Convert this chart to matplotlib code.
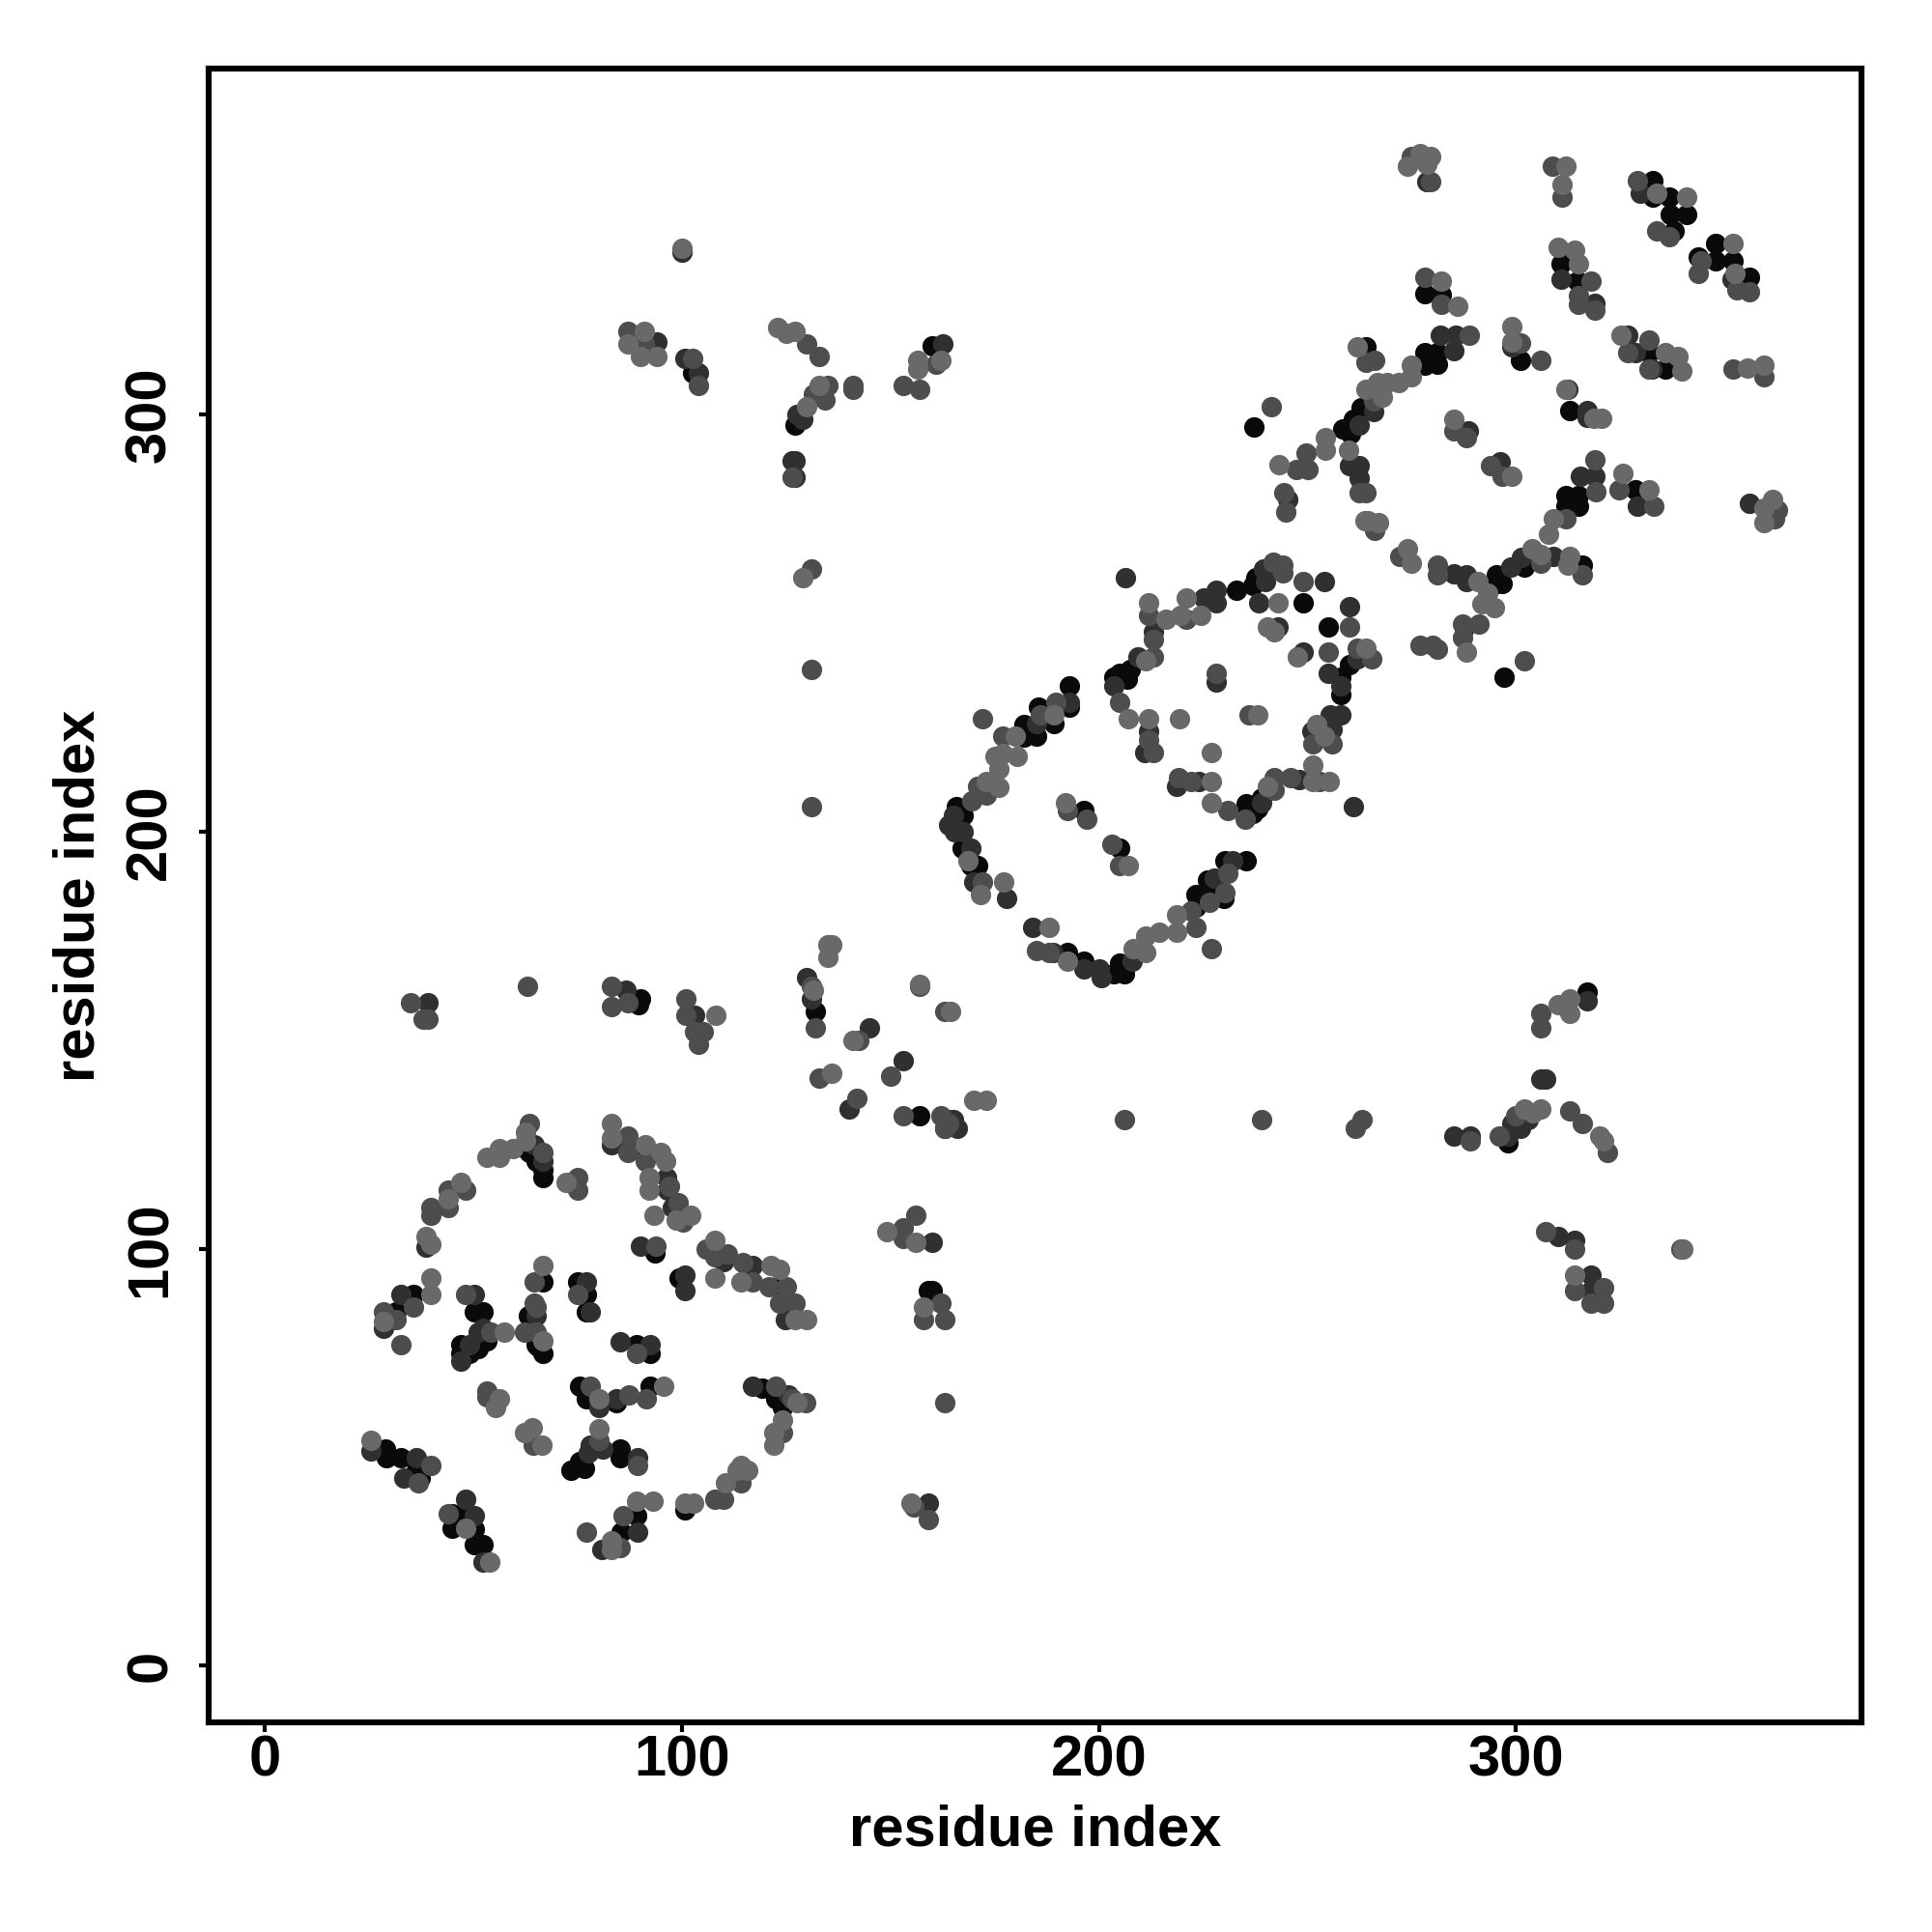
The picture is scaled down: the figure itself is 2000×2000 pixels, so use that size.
# contact map: residue index vs residue index, darker = stronger
import matplotlib
matplotlib.use('Agg')
import matplotlib.pyplot as plt

plt.rcParams['font.family'] = ['Liberation Sans', 'DejaVu Sans']
plt.rcParams['font.weight'] = 'bold'

xticks = [0, 100, 200, 300]
yticks = [0, 100, 200, 300]
axis_label = 'residue index'

# points, grouped by how dark they are
black = [(62.5,124),(63.5,123),(65.1,121),(66.6,119),(66.6,117),(35.6,89),(31.5,85),(50.1,85),(52.2,85),(47,77),(47,75),(49.1,75),(51.1,76),(53.2,78),
(66.6,92),(63.1,84),(65.1,77),(66.6,75),(65.6,76.5),(74.9,92),(77,89),(77,85),(89,77),(92.4,75),(75.4,67),(77,64),(84.2,63),(92.4,67),(119.3,66.6),
(122.4,64),(124,62),(100.7,37.5),(89,36),(85.4,32),(73.4,47),(75.4,49),(76.6,47.3),(85.2,52),(85.2,50),(28.9,52),(29.1,50),(32.5,50),(36.2,47),
(37.2,45),(44.9,36.5),(46.7,36),(44.9,33),(50.1,32.7),(50.1,29),(52.2,29),(93.5,99),(99.4,93),(122.9,91),(124.5,87),(87,125),(91.1,123),
(237.6,261),(237,259),(233,258),(249,255),(255,249),(260,240),(258,237),(258,233),(239,208),(235.3,206.8),(235.3,204.4),(237,204.4),(238,205.5),
(203.6,237),(205,238),(206.7,236.5),(207.5,239),(193,235),(193,230),(189.3,226),(185.5,230),(182,225.7),(185,223),(182,222.6),
(165.8,206),(167.3,204),(167.2,196),(169.3,192),(171,192),(196.3,205),(205,196),(235.3,193),(230.3,193),(226,188.5),(230,184),(226,185.5),
(223.3,185),(223.3,182),(205,168.5),(206,166),(203.6,166),(196.3,169),(192.4,171),
(332.9,356.1),(332.9,352.1),(336.7,352.1),(337,348.1),(341,348.1),(338,344.1),(347.9,341),(343.8,337.9),(347.9,337),(352,337),(356,333),
(310.7,336.1),(314.8,332.1),(278.2,329),(282,328.9),(301.1,313.1),(332,314.9),(335.9,310.9),(312.8,301.1),(328.6,282),
(281.2,314.9),(278.2,314.9),(278.2,311.8),(281.2,312.2),(264.1,316.2),(262.8,301.6),(261.1,298.9),(258.5,296.7),(260.2,295.4),(237.2,297.1),
(295.3,261.7),(294.4,259),(296.6,259.5),(302.1,263.4),(316,263.9),(312,278.1),(315,278.1),(312,280.7),(315,280.7),(297.2,237),
(102.5,310),(127,297.5),(160,316.5),(90,160),(89.5,158.6),(132,157),(157,132),(298,125.5),(317,161.6),(159,90),(160,90)]

dark = [(64.6,125),(66.6,121),(32.5,89),(28.4,81),(50.1,89),(52.2,81),(51.1,80),(49.1,77),(47,73),(65.1,84),(77,92),(78,85),(85.2,77.6),(92.4,77),(84.2,64),(80,62),
(116.9,67),(125.5,65),(89.3,32),(80.7,28),(81.1,52),(78,53),(77.5,51),(89.3,50),(25.3,51.6),(36.2,50),(33.2,45),(48,40),(50.1,36),(52.2,25),(38.7,100.5),
(83.1,125),(96.2,117),(97.6,110),(90,100.6),(100.7,93.6),(100.7,90),(110,97),(116.9,96),(124.9,83),(96.6,114),
(206.3,261),(239.5,263),(240,260),(238.4,255),(254,260),(260,254),(243,249),(249,243),(255,238),(262,241.5),(258,235),(255.4,228),(258,228),
(256,224.5),(251,224),(248,212.6),(261,206),(239,207),(224,212),(218.7,211),(228,236),(212,224),(211,219),(203.6,235),(209.4,242),(213,248),
(225,256),(228,258),(228,255),(193,231),(185,226),(165,204),(163.9,201.7),(165.4,200),(167.3,200),(169.3,196),(170,188),(177.8,184),(232,193),
(227.6,189),(207.9,169),(200,167),(200.5,165),(196.3,167),(189,171),(184,177),
(278.6,355.8),(329.9,353),(351.7,332.6),(310.7,332.6),(319,326.8),(298.9,316.2),(326.9,319.1),(328.6,315),(332.5,310.9),(312.4,306),(317.1,301.1),(317.1,299.3),
(288.5,296.1),(296.1,288.7),(329,278.1),(356,278.7),(285.5,319.1),(281.8,319.1),(285,315.3),(265.8,300.7),(262.4,297.6),(262.4,287.8),(260.1,287.8),(262.4,284.7),
(245.3,279.8),(285,261.9),(288,261.7),(288,259.9),(298.7,263.4),(301.3,265.7),(309,266.1),(319,285.2),(315.4,285.2),(287.6,248.8),
(100,339),(104,310),(94,317.5),(100.7,313.5),(129,299),(127.5,300),(126.4,289),(127,289),(127,285),(162.5,317),(39,159),(86.5,162),
(103,156),(130,165),(131,160),(145,153),(153,145),(140,133.5),(163,129),(165,131),(164,131),(166,129),(285,127),(289,127),(298,127),(299,130),(301,129),(303,131),(306,140.6),(307,140.6),(317,159.5),(160,101.6),
(159,39),(310,103),(314,102),(318,93.6),(318,90)]

mid = [(63.5,130),(66.6,123),(74.9,117),(74.9,114),(72.8,116),(48,114),(43.9,114),(43.9,110),(39.8,110),(39.8,108),(35.6,86),(28.4,85),(31.5,83),(32.5,77),(48,89),(54.2,80),
(64.6,92),(64.6,87),(65.1,86),(62.3,80),(65.1,80),(74.9,89),(89,75),(53.2,66),(53.2,64.5),(78,67),(87.3,65),(91.4,64),(122.4,67),(129.6,63),(126.5,64),(124,56),(114.1,44),
(110,40),(107.9,40),(85.8,36),(85.2,28.4),(77,32),(80,54),(89.3,48),(39.8,48),(36.7,44),(43.9,36.5),(87,127),(87,123),(91.1,121),(97,115),(99,111),(100.2,106.4),
(93.8,100.6),(105.9,100),(107.9,98),(111,98.7),(114.5,96.7),(116.9,92),(120.9,91),(125,91),(123.4,87),(127.2,87),(64.3,53),
(241.8,264.7),(244,264),(244,262),(249,260),(260,249),(255,243),(262,244),(265.4,241.5),(256,221),(251.3,221),(246,213),(253,212),(242,213),(242,210),
(235,203),(231,205),(219,213),(222,212),(236,228),(228,238),(212,222),(213,219),(205,231),(213,242),(213,246),(212,252),(221,251),(189.7,231),(186,228),(177,223),(172,227),
(171,211),(173,208.7),(169.6,207.5),(172,188),(192.4,205),(197,203),(203.2,197),(205,192),(231,190),(230.3,185.5),(226.4,183),(222,181),(223.3,177),(185,171.6),(188,171),(227,172),
(274.8,361.8),(279.5,355.8),(308.8,359.6),(311.1,352.1),(329,356.1),(344.4,337),(343.8,333.9),(353,329.9),(356,329.5),(333.8,344.1),(336.7,342.8),(318,332.1),(315,328.6),(315,326.4),(319,325.1),
(278.2,333),(282,326.4),(301.1,317.1),(306,313.1),(326.9,315),(332,318),(332,310.9),(352.1,310.9),(359.4,309.1),(285,296.2),(288,294.5),(294,287.8),(296.6,285.2),(324.8,282),
(333.1,278.1),(362.8,277.2),(362,275),(288.9,319.1),(266.2,313.1),(264.1,312.6),(265.8,303.3),(249.6,290.9),(262.4,281.2),(264.1,281.2),(247.4,286.9),(250,286.9),(241.2,302),
(244.4,281.2),(244.7,276.7),(266,272.3),(272.2,266.1),(281.2,263.9),(281.2,261.7),(306,264.3),(316,261.7),(312,275),(319.2,281.6),(319,289.2),(287.2,249.7),(291.2,249.7),(287.2,246.6),
(276.9,244.8),(279.9,244.8),(281.2,243.9),(302.1,241.1),
(87,320),(91,317),(102.5,313.5),(104,307),(130,317),(133,314),(135,307),(131.5,305),(134.4,303.5),(126.4,285),(141,307),(141,306),(153,307),(157,306),(161,312),(131,263),(131,239),(131,206),
(35,159),(38,155),(39,155),(63,163),(83,163),(83,158),(87,159),(101,160),(101,156),(103,152),(105,152),(104,149),(131,163),(132,153),(142.4,150),(150,141.5),(133,141),(142,136),
(153,132),(162,132),(164,130),(163,129),(157,163),(163,157),(206,131),(239,131),(261.5,129),(263,131),(289,126),(296,127),(300,132),(313,133),(316,130),(322,123),(306,156.5),(306,153),
(153,105),(156,108),(153,102.5),(162,87),(158,83),(163,83),(163,63),(155.7,38),(159,35),(307,104),(314,100),(314,90),(321,90.7),(318,87),(321,87),(339.5,100)]

light = [(62.5,128),(62.5,126),(53.2,122),(56.3,124),(56.3,122),(59.4,124),(72.3,116),(47,116),(43.9,112),(38.7,103),(39.8,101),(39.8,93),(39.8,89),(28.4,82.5),(57.3,80),(66.6,96),(66.6,78),(56.3,64),(55.3,62),(80,64),(95.5,67),
(127.6,63),(124,59),(122.1,56),(122.1,53),(114.1,48),(115.7,47),(113.1,47),(110.5,44),(102.8,39),(100.7,39),(93,39.6),(89,39.6),(83.1,30),(83.1,28),(80,56.8),(64,57),(62.3,56),(66.3,53),(25.3,54),(48,33),(54,25),
(83.1,130),(83.1,126.5),(91.1,125),(95,123),(96,121),(92.2,117),(92.2,114),(102.2,108),(98.6,107),(93.2,108),(107.9,102),(107.9,93),(114.1,92),(121.4,96),(123.4,95),(127.2,83),(130,83),
(243,255),(240.3,249),(242,248),(247.5,242),(264,244),(252.3,225.7),(254,223),(251.3,216),(251.3,212),(255.2,212),(240.3,211),(227,207),(227,212),(227,219),(238,228),(219.3,227),(212,227),(207,227),(211.3,241),
(212,255),(216,251),(219.5,252),(221,256),(224.5,252),(189.3,228),(180,223),(180.5,218),(177,218.7),(175,218),(176,215),(176,210.6),(173,212),(171.6,185),(177.2,188),(192,207),(207,192),(218.7,180),(218.7,176),
(214.4,176),(211.3,175),(208.3,172),(211.3,171),(192.4,169),(188,177),(168.5,193),
(276.9,362.7),(273.9,359.6),(279.5,361.8),(278.6,360),(312,359.6),(311.1,355.2),(333.8,353),(341,352.1),(352,341),(352.6,333.9),(310.2,340.1),(314.1,339.5),(315,336.1),(282,332.1),(286,325.9),(298.9,321.1),(298.9,317.5),
(325.2,319.1),(335.9,315),(338.9,314),(339.7,310.4),(355.6,311.1),(359.4,311.8),(312,306),(320.5,299.1),(318.8,299.1),(285,298.9),(299.1,285.2),(325.6,286),(332,282),(361.5,279.8),(359.4,277.6),(359.4,274.1),
(274.8,311.8),(274.8,309.1),(271.8,307.8),(269.2,307.8),(262,316.2),(266.7,307.8),(264.1,306),(267.9,304.2),(254.3,294.5),(254.3,291.4),(259.8,291.4),(243.2,288.1),(264.5,274.5),(267.1,274.1),(263.7,274.5),(273.9,267.9),(274.8,264.3),
(291,259.9),(291.9,254.6),(294.9,253.7),(293.2,257.2),(303.8,267.9),(306,266.5),(312.8,266.1),(312.4,263.9),(307.7,271.4),(309,275),(288,243),
(100,340),(91,320),(87,317),(90,314),(94,314),(123,321),(127,320),(125,319.6),(133,307),(130,302),(156.5,311),(156.5,313),(162,313),(129,261),
(108,156),(131.5,162),(135,173),(136,173),(135,170),(141,150),(136,142),(170,135.6),(173,135.6),(164.5,157),(157,163.5),(302,133.5),(304,132.6),(306,133.5),(320,127),(321,126),(310,158.6),(313,160),(313,156.5),
(149,104),(156,101.6),(158,86),(155,39),(314,93.6),(340,100)]

fig = plt.figure(figsize=(10, 10), dpi=200)
ax = fig.add_axes([0.1078, 0.1084, 0.8558, 0.8559])

for pts, g in [(black, 0.04), (dark, 0.19), (mid, 0.3), (light, 0.41)]:
    xs = [p[0] for p in pts]
    ys = [p[1] for p in pts]
    ax.scatter(xs, ys, s=58, color=str(g), linewidths=0, zorder=2)

ax.set_xlim(-13.6, 382.9)
ax.set_ylim(-13.6, 382.9)
ax.set_xticks(xticks)
ax.set_yticks(yticks)
ax.tick_params(axis='x', length=3.5, width=1.5, labelsize=21.5, pad=1)
ax.tick_params(axis='y', length=3.5, width=1.5, labelsize=21.5, pad=8)
plt.setp(ax.get_yticklabels(), rotation=90, va='center')
for s in ax.spines.values():
    s.set_linewidth(2.2)
ax.set_xlabel(axis_label, fontsize=21.5, fontweight='bold', labelpad=6)
ax.set_ylabel(axis_label, fontsize=21.5, fontweight='bold', labelpad=7)

fig.savefig('out.png', dpi=200)
